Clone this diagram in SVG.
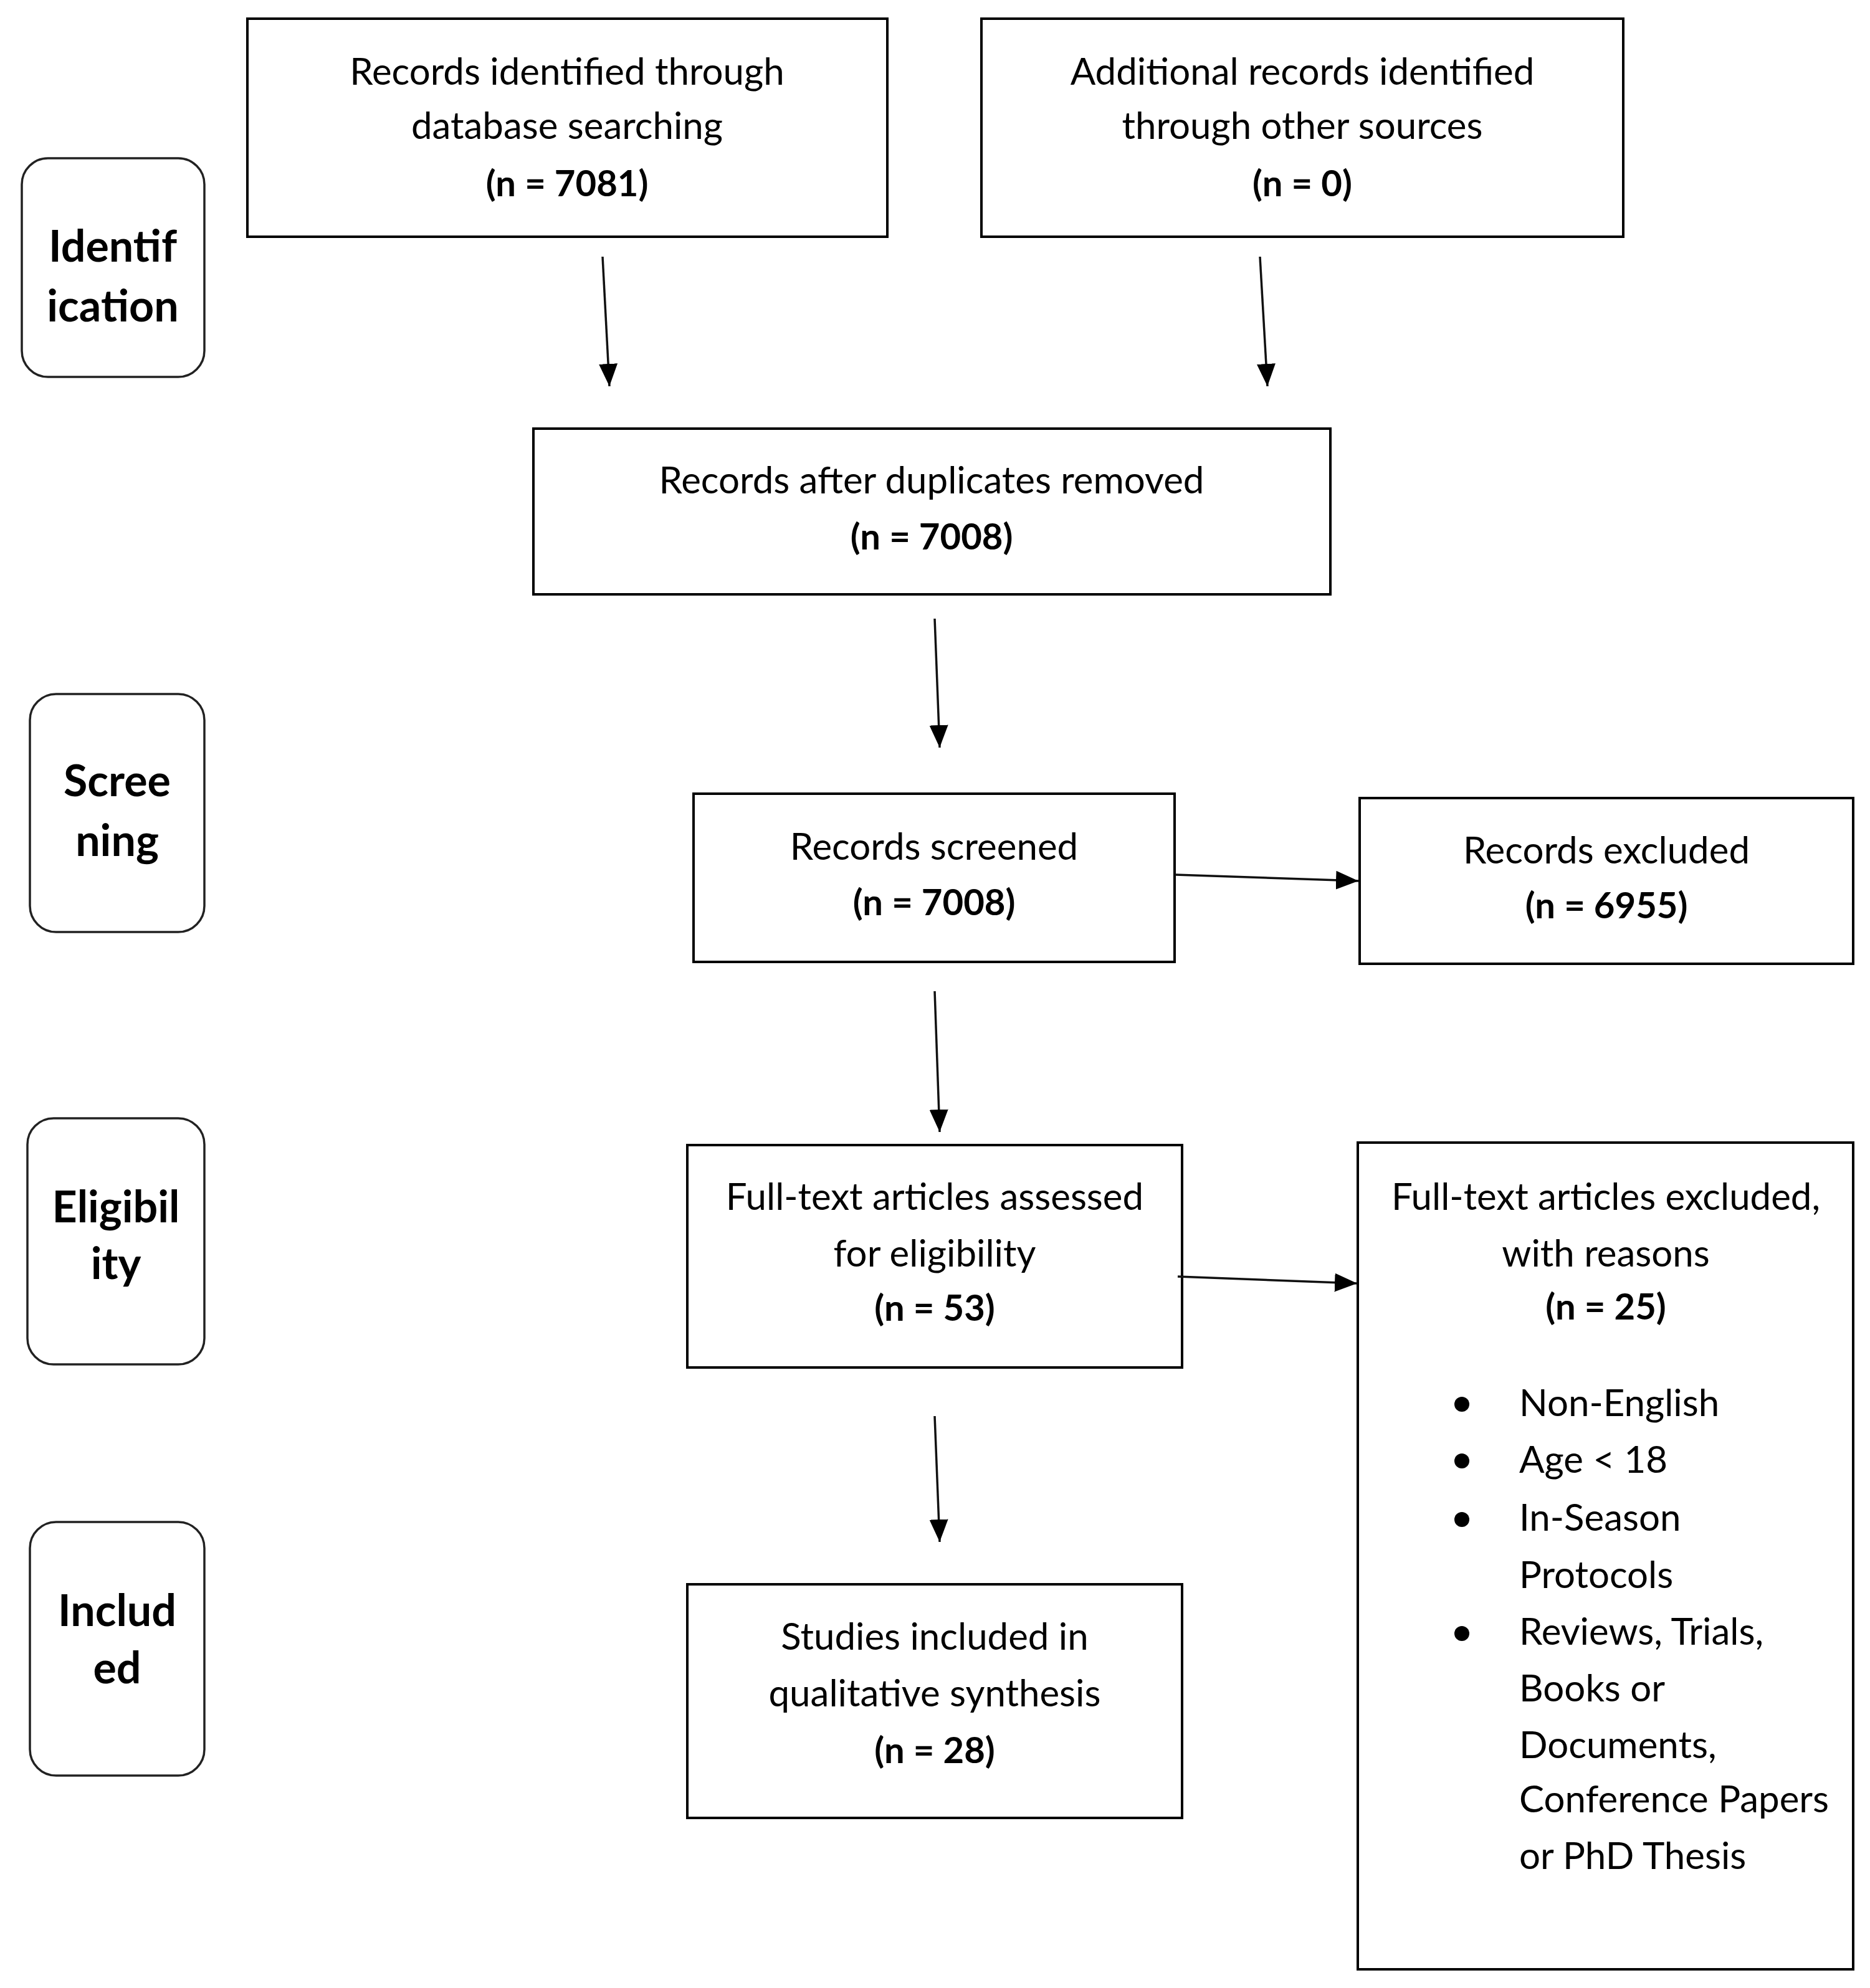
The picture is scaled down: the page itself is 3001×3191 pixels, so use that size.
<svg xmlns="http://www.w3.org/2000/svg" width="3001" height="3191" viewBox="0 0 3001 3191">
<defs>
<marker id="ah" markerUnits="userSpaceOnUse" markerWidth="36" markerHeight="30" refX="36" refY="15" orient="auto">
<path d="M0,0 L36,15 L0,30 z" fill="#000"/>
</marker>
<style>
.box{fill:#fff;stroke:#000;stroke-width:4}
.stage{fill:#fff;stroke:#222;stroke-width:3.5}
.t{font-family:Lato,"Open Sans",sans-serif;font-size:60px;fill:#000;text-anchor:middle}
.b{font-weight:bold;font-size:58px}
.s{font-family:Lato,"Open Sans",sans-serif;font-size:70px;font-weight:bold;fill:#000;text-anchor:middle}
.li{font-family:Lato,"Open Sans",sans-serif;font-size:60px;fill:#000}
.c{stroke:#111;stroke-width:3.5;fill:none;marker-end:url(#ah)}
</style>
</defs>
<rect width="3001" height="3191" fill="#fff"/>

<g id="stage-identification">
<rect class="stage" x="35" y="254" width="293" height="351" rx="42"/>
<text class="s" x="181" y="420">Identif</text>
<text class="s" x="181" y="516">ication</text>
</g>
<g id="stage-screening">
<rect class="stage" x="48" y="1114" width="280" height="382" rx="42"/>
<text class="s" x="188" y="1278">Scree</text>
<text class="s" x="188" y="1374">ning</text>
</g>
<g id="stage-eligibility">
<rect class="stage" x="44" y="1795" width="284" height="395" rx="42"/>
<text class="s" x="186" y="1962">Eligibil</text>
<text class="s" x="186" y="2053">ity</text>
</g>
<g id="stage-included">
<rect class="stage" x="48" y="2443" width="280" height="407" rx="42"/>
<text class="s" x="188" y="2610">Includ</text>
<text class="s" x="188" y="2702">ed</text>
</g>

<g id="n-database">
<rect class="box" x="397" y="30" width="1027" height="350"/>
<text class="t" x="910" y="136">Records identified through</text>
<text class="t" x="910" y="223">database searching</text>
<text class="t b" x="910" y="315">(n = 7081)</text>
</g>
<g id="n-other">
<rect class="box" x="1575" y="30" width="1030" height="350"/>
<text class="t" x="2090" y="136">Additional records identified</text>
<text class="t" x="2090" y="223">through other sources</text>
<text class="t b" x="2090" y="315">(n = 0)</text>
</g>
<g id="n-dedup">
<rect class="box" x="856" y="688" width="1279" height="266"/>
<text class="t" x="1495" y="792">Records after duplicates removed</text>
<text class="t b" x="1495" y="882">(n = 7008)</text>
</g>
<g id="n-screened">
<rect class="box" x="1113" y="1274" width="772" height="270"/>
<text class="t" x="1499" y="1380">Records screened</text>
<text class="t b" x="1499" y="1469">(n = 7008)</text>
</g>
<g id="n-excluded">
<rect class="box" x="2182" y="1281" width="792" height="266"/>
<text class="t" x="2578" y="1386">Records excluded</text>
<text class="t b" x="2578" y="1474">(n = 6955)</text>
</g>
<g id="n-fulltext">
<rect class="box" x="1103" y="1838" width="794" height="357"/>
<text class="t" x="1500" y="1942">Full-text articles assessed</text>
<text class="t" x="1500" y="2033">for eligibility</text>
<text class="t b" x="1500" y="2120">(n = 53)</text>
</g>
<g id="n-ft-excluded">
<rect class="box" x="2179" y="1834" width="795" height="1327"/>
<text class="t" x="2577" y="1942">Full-text articles excluded,</text>
<text class="t" x="2577" y="2033">with reasons</text>
<text class="t b" x="2577" y="2118">(n = 25)</text>
<circle cx="2346" cy="2254" r="12" fill="#000"/>
<circle cx="2346" cy="2345" r="12" fill="#000"/>
<circle cx="2346" cy="2439" r="12" fill="#000"/>
<circle cx="2346" cy="2622" r="12" fill="#000"/>
<text class="li" x="2438" y="2273">Non-English</text>
<text class="li" x="2438" y="2364">Age &lt; 18</text>
<text class="li" x="2438" y="2457">In-Season</text>
<text class="li" x="2438" y="2549">Protocols</text>
<text class="li" x="2438" y="2640">Reviews, Trials,</text>
<text class="li" x="2438" y="2731">Books or</text>
<text class="li" x="2438" y="2822">Documents,</text>
<text class="li" x="2438" y="2909">Conference Papers</text>
<text class="li" x="2438" y="3000">or PhD Thesis</text>
</g>
<g id="n-included">
<rect class="box" x="1103" y="2543" width="794" height="375"/>
<text class="t" x="1500" y="2648">Studies included in</text>
<text class="t" x="1500" y="2739">qualitative synthesis</text>
<text class="t b" x="1500" y="2830">(n = 28)</text>
</g>

<g id="connectors">
<line class="c" x1="967" y1="412" x2="978" y2="620"/>
<line class="c" x1="2022" y1="412" x2="2034" y2="620"/>
<line class="c" x1="1500" y1="993" x2="1508" y2="1200"/>
<line class="c" x1="1886" y1="1404" x2="2180" y2="1414"/>
<line class="c" x1="1500" y1="1591" x2="1508" y2="1817"/>
<line class="c" x1="1890" y1="2049" x2="2178" y2="2060"/>
<line class="c" x1="1500" y1="2273" x2="1508" y2="2475"/>
</g>
</svg>
